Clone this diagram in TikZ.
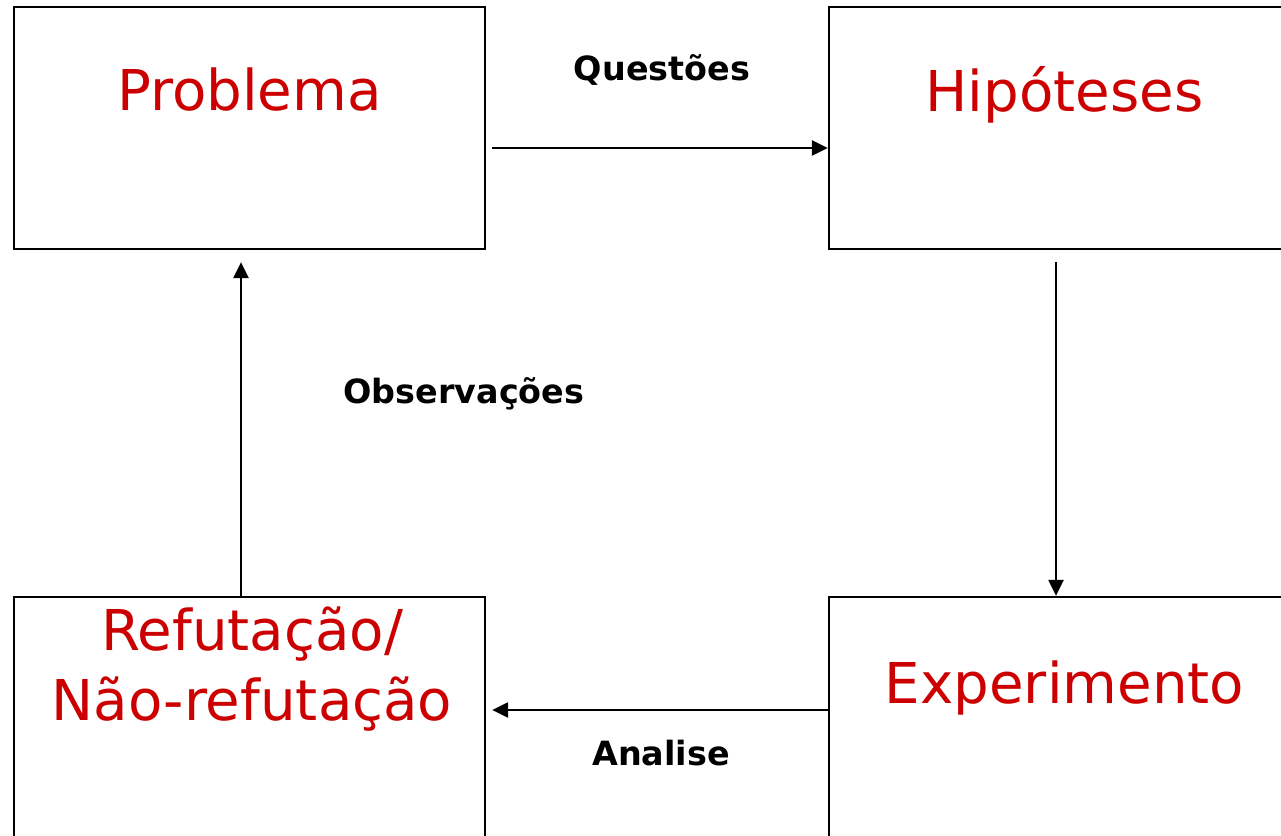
\documentclass[tikz,border=0pt]{standalone}
\usepackage{fontspec}
\setmainfont{DejaVu Sans}
\usetikzlibrary{calc,positioning,arrows.meta}

\definecolor{stagered}{RGB}{204,0,0}

\tikzset{
  stagebox/.style={rectangle,minimum width=9.42cm,minimum height=4.84cm,draw=black,line width=1.3pt,inner sep=0pt},
  stagetext/.style={text=stagered,font=\fontsize{32}{40}\selectfont,anchor=base,align=center,inner sep=0pt},
  linktext/.style={font=\bfseries\fontsize{19}{23}\selectfont,inner sep=0pt},
  linkarrow/.style={-{Triangle[length=0.32cm,width=0.30cm]},line width=1.3pt},
}

\begin{document}
\begin{tikzpicture}

\coordinate (LEFTCORNER) at (0,0);
\useasboundingbox (LEFTCORNER) rectangle ++(25.62,16.70);
\clip (LEFTCORNER) rectangle ++(25.62,16.70);

\coordinate (input) at (LEFTCORNER);

%%%%%%%%%%%%%%%%%%%%%

%draw the four boxes
\node[stagebox] at ($(input)+(4.99,14.14)$) (PROBLEMA) {};
\node[stagebox] at ($(input)+(21.29,14.14)$) (HIPOTESES) {};
\node[stagebox] at ($(input)+(21.29,2.34)$) (EXPERIMENTO) {};
\node[stagebox] at ($(input)+(4.99,2.34)$) (REFUTACAO) {};

%text in the boxes
\node[stagetext] at ($(PROBLEMA.north)+(0,-2.10)$) (PROBLEMATXT) {Problema};
\node[stagetext] at ($(HIPOTESES.north)+(0,-2.12)$) (HIPOTESESTXT) {Hipóteses};
\node[stagetext] at ($(EXPERIMENTO.north)+(0,-2.16)$) (EXPERIMENTOTXT) {Experimento};
\node[stagetext] at ($(REFUTACAO.north)+(0.05,-2.50)$) (REFUTACAOTXT) {Refutação/\\Não-refutação};

%%%%%%%

%draw arrows between boxes
\draw[linkarrow,shorten <=0.12cm] ($(PROBLEMA.east)+(0,-0.40)$) -- ($(HIPOTESES.west)+(0,-0.40)$);
\draw[linkarrow,shorten <=0.24cm] ($(HIPOTESES.south)+(-0.17,0)$) -- ($(EXPERIMENTO.north)+(-0.17,0)$);
\draw[linkarrow,shorten >=0.12cm] ($(EXPERIMENTO.west)+(0,0.16)$) -- ($(REFUTACAO.east)+(0,0.16)$);
\draw[linkarrow,shorten >=0.24cm] ($(REFUTACAO.north)+(-0.17,0)$) -- ($(PROBLEMA.south)+(-0.17,0)$);

%labels on the arrows
\node[linktext] at ($(input)+(13.24,15.30)$) (QUESTOES) {Questões};
\node[linktext] at ($(input)+(9.28,8.82)$) (OBSERVACOES) {Observações};
\node[linktext] at ($(input)+(13.22,1.64)$) (ANALISE) {Analise};

%%%%%%%%%%%%%%%%%%%%%%

\end{tikzpicture}
\end{document}
